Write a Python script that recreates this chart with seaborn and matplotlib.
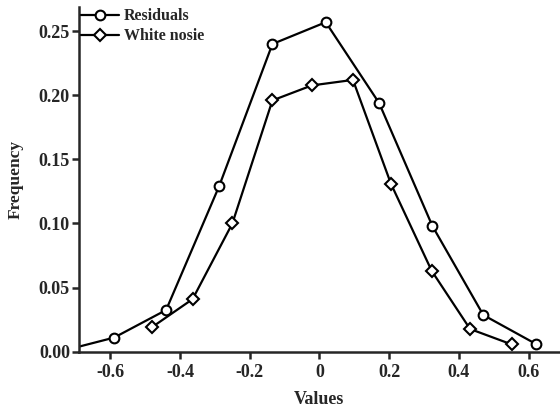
import numpy as np
import pandas as pd
import matplotlib.pyplot as plt
import seaborn as sns

# Du lieu doc tu hinh
resid_x = [-0.732, -0.589, -0.440, -0.288, -0.135, 0.018, 0.171, 0.324, 0.470, 0.621]
resid_y = [0.001, 0.011, 0.0325, 0.129, 0.240, 0.257, 0.194, 0.098, 0.0286, 0.006]
noise_x = [-0.481, -0.364, -0.250, -0.135, -0.022, 0.096, 0.205, 0.322, 0.432, 0.551]
noise_y = [0.019, 0.041, 0.100, 0.196, 0.2077, 0.212, 0.131, 0.063, 0.0177, 0.0057]
x_ticks = [-0.6, -0.4, -0.2, 0, 0.2, 0.4, 0.6]
x_tick_labels = ['-0.6', '-0.4', '-0.2', '0', '0.2', '0.4', '0.6']
y_ticks = [0.00, 0.05, 0.10, 0.15, 0.20, 0.25]

sns.set_style('ticks')
plt.rcParams['font.family'] = ['Liberation Serif', 'DejaVu Serif']
plt.rcParams['font.weight'] = 'bold'

df_r = pd.DataFrame({'x': resid_x, 'y': resid_y})
df_n = pd.DataFrame({'x': noise_x, 'y': noise_y})

fig = plt.figure(figsize=(5.6, 4.12), dpi=100)
ax = fig.add_axes([0.141, 0.1464, 0.859, 0.837])

sns.lineplot(data=df_r, x='x', y='y', ax=ax, color='black', lw=1.6,
             marker='o', markersize=7, markerfacecolor='white',
             markeredgecolor='black', markeredgewidth=1.5, label='Residuals')
sns.lineplot(data=df_n, x='x', y='y', ax=ax, color='black', lw=1.6,
             marker='D', markersize=6, markerfacecolor='white',
             markeredgecolor='black', markeredgewidth=1.5, label='White nosie')

ax.set_xlim(-0.69, 0.69)
ax.set_ylim(0, 0.269)
ax.set_xticks(x_ticks)
ax.set_xticklabels(x_tick_labels)
ax.set_yticks(y_ticks)
ax.set_yticklabels([f'{v:.2f}' for v in y_ticks])
ax.tick_params(direction='out', length=5, width=1.8, labelsize=13)
ax.tick_params(axis='y', pad=1.5)
ax.tick_params(axis='x', pad=4)
for lab in ax.get_xticklabels() + ax.get_yticklabels():
    lab.set_fontweight('bold')

sns.despine(ax=ax)
ax.spines['left'].set_linewidth(1.8)
ax.spines['bottom'].set_linewidth(1.8)

ax.set_xlabel('Values', fontsize=13, fontweight='bold', labelpad=7)
ax.set_ylabel('Frequency', fontsize=12.5, fontweight='bold', labelpad=11)

leg = ax.legend(loc='upper left', frameon=False, fontsize=11.5,
                handlelength=2.4, handletextpad=0.3, borderaxespad=0.0,
                borderpad=0.1, labelspacing=0.25)
for t in leg.get_texts():
    t.set_fontweight('bold')

fig.savefig('out.png', dpi=100)
